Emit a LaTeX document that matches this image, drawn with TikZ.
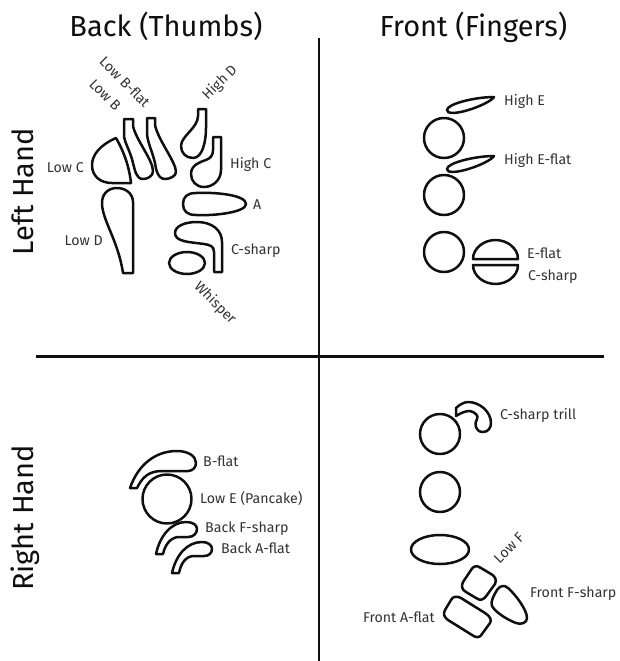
\documentclass[tikz,border=0pt]{standalone}
\usepackage{fontspec}
\setmainfont{Fira Sans}
\usepackage{xcolor}
\definecolor{keyBlack}{RGB}{15, 15, 15}
\definecolor{labelGray}{RGB}{50, 50, 50}
\usetikzlibrary{positioning}

\begin{document}
\begin{tikzpicture}[
  x=1pt, y=-1pt,
  key/.style={draw=keyBlack, line width=2.5pt, line join=round, fill=white},
  axis/.style={draw=keyBlack, line width=2.4pt},
  lbl/.style={font=\fontsize{14.2}{16}\selectfont\color{labelGray}, inner sep=0pt, yshift=-1pt},
  heading/.style={font=\fontsize{29}{32}\selectfont\color{keyBlack}, inner sep=0pt, anchor=base}]

  \useasboundingbox (0,0) rectangle (619,661);

  % ---- Axes ----
  \coordinate (axTop) at (319,38);
  \coordinate (axBottom) at (319,661);
  \coordinate (axLeft) at (36,356.5);
  \coordinate (axRight) at (604,356.5);
  \draw[axis] (axTop) -- (axBottom);
  \draw[axis] (axLeft) -- (axRight);

  % ---- Headings ----
  \node[heading] (back) at (166,37) {Back (Thumbs)};
  \node[heading] (front) at (473.5,37) {Front (Fingers)};
  \node[heading, rotate=90] (left) at (33.5,191.5) {Left Hand};
  \node[heading, rotate=90] (right) at (33.5,518) {Right Hand};

  % ---- Back, Left Hand ----
  \draw[key] (116,138) .. controls (100,145) and (92,155) .. (92,165)
    .. controls (92,176) and (100,183) .. (112,183) -- (131,183)
    .. controls (129,165) and (123,150) .. (116,138) -- cycle;
  \draw[key] (124,119) -- (133,119) -- (133,126)
    .. controls (136,140) and (153,160) .. (153,171)
    .. controls (153,176) and (148,179) .. (143,179)
    .. controls (136,179) and (135,170) .. (133,163)
    .. controls (130,150) and (124,142) .. (124,135) -- cycle;
  \draw[key] (147,118) -- (155,118) -- (155,125)
    .. controls (158,140) and (176,162) .. (176,172)
    .. controls (176,176) and (170,179) .. (165,179)
    .. controls (158,179) and (156,170) .. (155,163)
    .. controls (152,150) and (147,142) .. (147,132) -- cycle;
  \draw[key] (198,109) -- (206,109) -- (206,128)
    .. controls (206,140) and (203,158) .. (193,158)
    .. controls (186,158) and (181,153) .. (181,146)
    .. controls (181,136) and (198,128) .. (198,116) -- cycle;
  \draw[key] (213,137) -- (221,137) -- (221,170)
    .. controls (221,180) and (213,187) .. (204,187)
    .. controls (196,187) and (191,181) .. (191,174)
    .. controls (191,165) and (200,162) .. (206,160)
    .. controls (211,158) and (213,155) .. (213,150) -- cycle;
  \draw[key] (183,204) .. controls (183,197) and (187,193) .. (196,193)
    .. controls (216,192) and (246,195) .. (246,204)
    .. controls (246,212) and (216,216) .. (196,215)
    .. controls (187,215) and (183,211) .. (183,204) -- cycle;
  \draw[key] (175,233) .. controls (175,226) and (185,222) .. (197,222)
    .. controls (212,222) and (222,230) .. (222,242) -- (222,272) -- (214,272) -- (214,252)
    .. controls (214,246) and (210,245) .. (204,244)
    .. controls (190,242) and (175,242) .. (175,233) -- cycle;
  \draw[key] (187,263) ellipse (18 and 11);
  \draw[key] (117,188) .. controls (108,188) and (102,194) .. (102,203)
    .. controls (102,220) and (118,240) .. (123,273) -- (133,273) -- (133,202)
    .. controls (133,194) and (126,188) .. (117,188) -- cycle;

  \node[lbl, anchor=east] (lowc) at (84,167) {Low C};
  \node[lbl, anchor=east] (lowd) at (103,240) {Low D};
  \node[lbl, rotate=-45] (lowb) at (105,94) {Low B};
  \node[lbl, rotate=-45] (lowbflat) at (125,81) {Low B-flat};
  \node[lbl, rotate=45] (highd) at (220,82) {High D};
  \node[lbl, anchor=west] (highc) at (230,163) {High C};
  \node[lbl, anchor=west] (a) at (253,204) {A};
  \node[lbl, anchor=west] (csharpb) at (231,250) {C-sharp};
  \node[lbl, rotate=-45] (whisper) at (215,302) {Whisper};

  % ---- Front, Left Hand ----
  \draw[key] (444,138) circle (20);
  \draw[key] (444,195) circle (20);
  \draw[key] (444,252) circle (20);
  \draw[key] (447,110) .. controls (447,104) and (475,97) .. (494,97)
    .. controls (490,103) and (465,113) .. (452,113)
    .. controls (449,113) and (447,112) .. (447,110) -- cycle;
  \draw[key] (447,169) .. controls (447,163) and (475,156) .. (494,156)
    .. controls (490,162) and (465,172) .. (452,172)
    .. controls (449,172) and (447,171) .. (447,169) -- cycle;
  \draw[key] (473,259) .. controls (473,248) and (484,240) .. (495.5,240)
    .. controls (507,240) and (518,248) .. (518,259) -- cycle;
  \draw[key] (473,265) -- (518,265)
    .. controls (518,276) and (507,284) .. (495.5,284)
    .. controls (484,284) and (473,276) .. (473,265) -- cycle;

  \node[lbl, anchor=west] (highe) at (504,100) {High E};
  \node[lbl, anchor=west] (higheflat) at (504,159) {High E-flat};
  \node[lbl, anchor=west] (eflat) at (527,252) {E-flat};
  \node[lbl, anchor=west] (csharpf) at (528,276) {C-sharp};

  % ---- Back, Right Hand ----
  \draw[key] (130,488) -- (137,488)
    .. controls (142,478) and (148,471) .. (162,471) -- (188,471)
    .. controls (193,471) and (196,467) .. (196,463)
    .. controls (196,456) and (188,451) .. (177,451)
    .. controls (155,451) and (138,465) .. (130,488) -- cycle;
  \draw[key] (167,499) circle (24.5);
  \draw[key] (156,554) -- (163,554)
    .. controls (165,545) and (170,538) .. (178,537) -- (188,537)
    .. controls (194,537) and (197,533) .. (197,529)
    .. controls (197,525) and (193,522) .. (186,522)
    .. controls (172,522) and (160,535) .. (156,554) -- cycle;
  \draw[key] (172,573) -- (179,573)
    .. controls (181,563) and (186,556) .. (194,556) -- (204,556)
    .. controls (209,556) and (212,553) .. (212,549)
    .. controls (212,545) and (208,542) .. (202,542)
    .. controls (187,542) and (176,555) .. (172,573) -- cycle;

  \node[lbl, anchor=west] (bflat) at (203,460) {B-flat};
  \node[lbl, anchor=west] (lowe) at (200,497.5) {Low E (Pancake)};
  \node[lbl, anchor=west] (backfsharp) at (205,528) {Back F-sharp};
  \node[lbl, anchor=west] (backaflat) at (221,547) {Back A-flat};

  % ---- Front, Right Hand ----
  \draw[key] (440,434) circle (20);
  \draw[key] (440,492) circle (20);
  \draw[key] (440,549.5) ellipse (29 and 14.5);
  \draw[key] (456,408) -- (456,416)
    .. controls (461,413) and (465,411) .. (470,411)
    .. controls (475,412) and (479,416) .. (477,419)
    .. controls (474,423) and (475,432) .. (483,432)
    .. controls (488,432) and (491,428) .. (491,423)
    .. controls (491,412) and (480,402) .. (468,402)
    .. controls (464,402) and (459,405) .. (456,408) -- cycle;
  \draw[key] (471,570) .. controls (473,566) and (477,565) .. (481,568) -- (491,574)
    .. controls (495,576) and (497,580) .. (495,584) -- (487,595)
    .. controls (484,600) and (480,601) .. (476,598) -- (466,592)
    .. controls (462,590) and (461,586) .. (463,582) -- cycle;
  \draw[key] (451,600) .. controls (453,596) and (457,596) .. (461,598) -- (485,613)
    .. controls (490,616) and (492,620) .. (490,623) -- (482,634)
    .. controls (480,638) and (476,638) .. (472,635) -- (448,620)
    .. controls (444,617) and (443,614) .. (445,610) -- cycle;
  \draw[key] (497,590) .. controls (500,585) and (505,585) .. (508,588)
    .. controls (516,595) and (527,610) .. (527,618)
    .. controls (527,623) and (521,625) .. (516,623)
    .. controls (508,620) and (496,613) .. (492,606)
    .. controls (490,602) and (494,595) .. (497,590) -- cycle;

  \node[lbl, anchor=west] (csharptrill) at (500,414) {C-sharp trill};
  \node[lbl, rotate=45] (lowf) at (509,547) {Low F};
  \node[lbl, anchor=west] (frontfsharp) at (530,593) {Front F-sharp};
  \node[lbl, anchor=east] (frontaflat) at (435,616.5) {Front A-flat};

\end{tikzpicture}
\end{document}
